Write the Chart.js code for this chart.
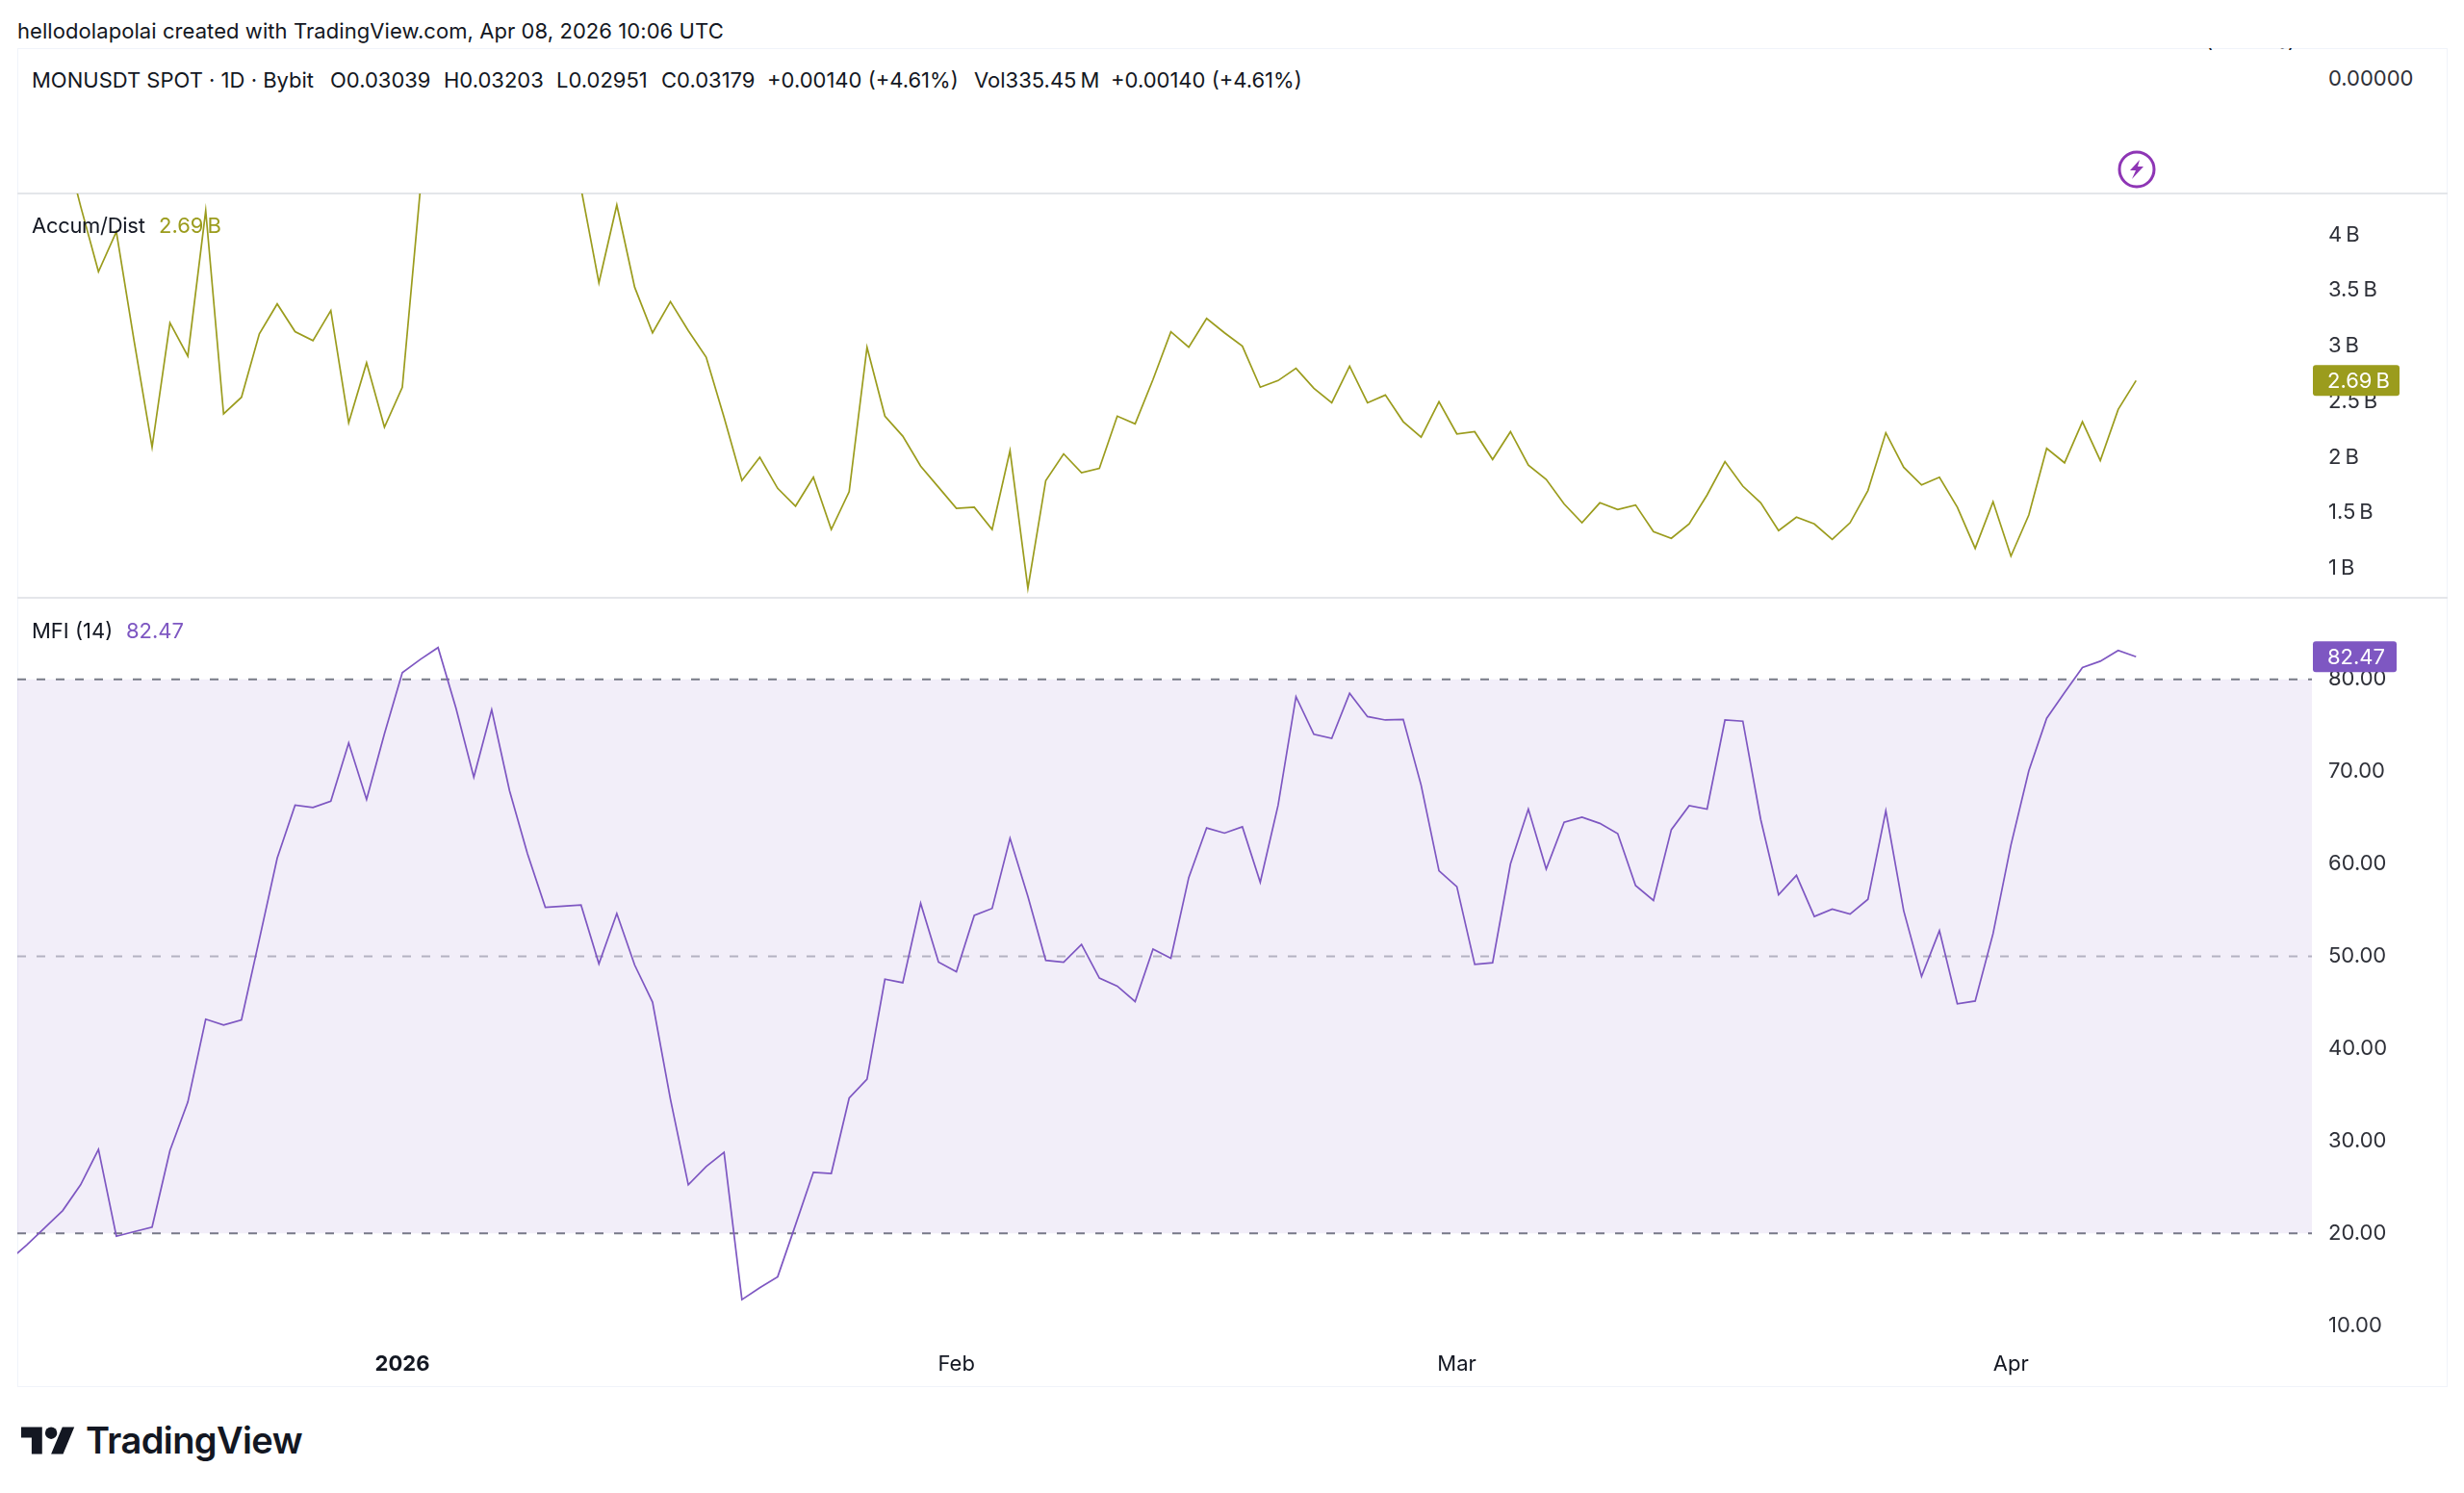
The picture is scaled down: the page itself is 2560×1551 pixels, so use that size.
<!DOCTYPE html>
<html>
<head>
<meta charset="utf-8">
<title>MONUSDT</title>
<script src="https://cdn.jsdelivr.net/npm/chart.js@4"></script>
<style>
  html, body { margin: 0; padding: 0; background: #fff; }
  body { width: 2560px; height: 1551px; position: relative; overflow: hidden; font-family: "Inter", sans-serif; color: #131722; }
  .abs { position: absolute; white-space: pre; }
  .txt { font-size: 22px; line-height: 28px; }
  canvas { position: absolute; display: block; }
  #frame { position: absolute; left: 18px; top: 50px; width: 2523px; height: 1389px; border: 1px solid #f0f3fa; }
  .sep { position: absolute; left: 18px; width: 2525px; height: 2px; background: #e4e6ea; }
</style>
</head>
<body>
<div class="abs txt" style="left:18px;top:18px;letter-spacing:0.07px">hellodolapolai created with TradingView.com, Apr 08, 2026 10:06 UTC</div>

<div id="frame"></div>
<div class="sep" style="top:200px"></div>
<div class="sep" style="top:620px"></div>

<canvas id="adChart" width="2524" height="420" style="left:18px;top:201px"></canvas>
<canvas id="mfiChart" width="2524" height="819" style="left:18px;top:621px"></canvas>

<!-- tail of the price legend that gets cut by the pane edge -->
<div class="abs" style="left:2100px;top:50px;width:290px;height:5px;overflow:hidden">
  <div class="abs txt" style="right:5px;top:-22px">+0.00140 (+4.61%)</div>
</div>

<div class="abs txt" style="left:33px;top:69px">MONUSDT SPOT · 1D · Bybit</div>
<div class="abs txt" style="left:343px;top:69px">O0.03039</div>
<div class="abs txt" style="left:461px;top:69px">H0.03203</div>
<div class="abs txt" style="left:578px;top:69px">L0.02951</div>
<div class="abs txt" style="left:687px;top:69px">C0.03179</div>
<div class="abs txt" style="left:797px;top:69px">+0.00140 (+4.61%)</div>
<div class="abs txt" style="left:1012px;top:69px">Vol335.45&#8201;M</div>
<div class="abs txt" style="left:1154px;top:69px">+0.00140 (+4.61%)</div>
<div class="abs txt" style="left:2419px;top:67px;color:#2e3038">0.00000</div>
<svg class="abs" style="left:2200px;top:156px" width="40" height="40" viewBox="0 0 40 40">
  <circle cx="20" cy="20" r="18" fill="#fff" stroke="#8e35b5" stroke-width="3"/>
  <path d="M23 10 L13 21 H19 L15 30 L27 17 H21 Z" fill="#8e35b5"/>
</svg>

<div class="abs txt" style="left:33px;top:220px;letter-spacing:-0.3px">Accum/Dist</div>
<div class="abs txt" style="left:165px;top:220px;color:#9b9c1d">2.69&#8201;B</div>
<div class="abs txt" style="left:33px;top:641px">MFI (14)</div>
<div class="abs txt" style="left:131px;top:641px;color:#7e57c2">82.47</div>

<svg class="abs" style="left:22px;top:1480px" width="56" height="33" viewBox="0 4 36 18">
  <path d="M14 22H7V11H0V4h14v18zM28 22h-8l7.5-18h8L28 22z" fill="#131722"/>
  <circle cx="20" cy="8" r="4" fill="#131722"/>
</svg>
<div class="abs" style="left:89px;top:1472px;font-size:38px;line-height:48px;font-weight:600;letter-spacing:-0.6px">TradingView</div>

<script>
// days counted from Jan 1 2026, first entry is Dec 10 2025
const firstDay = -22;

// Accum/Dist in billions, null where the line runs off the top of the pane
const adValues = [
  null, null, null, 4.89, 4.26, 3.67, 4.03, 3.04, 2.09, 3.21, 2.91, 4.22, 2.39, 2.54, 3.11, 3.38,
  3.13, 3.05, 3.32, 2.31, 2.85, 2.27, 2.63, 4.4, null, null, null, null, null, null, null, null,
  4.42, 3.57, 4.27, 3.53, 3.12, 3.40, 3.14, 2.90, 2.36, 1.79, 2.00, 1.72, 1.56, 1.82, 1.35, 1.69,
  2.99, 2.37, 2.19, 1.92, 1.73, 1.54, 1.55, 1.35, 2.06, 0.82, 1.79, 2.03, 1.86, 1.90, 2.37, 2.30,
  2.70, 3.13, 2.99, 3.25, 3.12, 3.00, 2.63, 2.69, 2.80, 2.62, 2.49, 2.82, 2.49, 2.56, 2.32, 2.18,
  2.50, 2.21, 2.23, 1.98, 2.23, 1.93, 1.80, 1.58, 1.41, 1.59, 1.53, 1.57, 1.33, 1.27, 1.40, 1.66,
  1.96, 1.74, 1.59, 1.34, 1.46, 1.40, 1.26, 1.41, 1.70, 2.22, 1.91, 1.75, 1.82, 1.55, 1.18, 1.60,
  1.11, 1.48, 2.08, 1.95, 2.32, 1.97, 2.43, 2.69
];

const mfiValues = [
  17.09, 18.76, 20.62, 22.47, 25.26, 29.09, 19.69, 20.19, 20.68, 28.97, 34.23, 43.20, 42.58, 43.13, 51.85, 60.64,
  66.39, 66.14, 66.82, 73.13, 67.01, 74.12, 80.74, 82.16, 83.46, 76.91, 69.42, 76.72, 67.94, 61.13, 55.32, 55.44,
  55.57, 49.20, 54.64, 49.07, 45.05, 34.54, 25.26, 27.24, 28.78, 12.82, 14.12, 15.30, 20.93, 26.62, 26.49, 34.66,
  36.70, 47.53, 47.15, 55.75, 49.38, 48.33, 54.45, 55.20, 62.80, 56.49, 49.57, 49.38, 51.30, 47.65, 46.78, 45.11,
  50.80, 49.81, 58.54, 63.92, 63.36, 64.04, 58.04, 66.39, 78.14, 74.06, 73.63, 78.51, 75.98, 75.61, 75.67, 68.56,
  59.28, 57.55, 49.13, 49.32, 60.02, 65.96, 59.46, 64.54, 65.09, 64.41, 63.30, 57.67, 56.06, 63.73, 66.33, 65.96,
  75.61, 75.48, 64.84, 56.68, 58.78, 54.33, 55.13, 54.58, 56.19, 65.77, 54.95, 47.83, 52.78, 44.87, 45.17, 52.47,
  62.06, 70.10, 75.79, 78.58, 81.30, 81.98, 83.15, 82.47
];

const adTicks = [1, 1.5, 2, 2.5, 3, 3.5, 4];
const adTickLabels = ["1\u2009B", "1.5\u2009B", "2\u2009B", "2.5\u2009B", "3\u2009B", "3.5\u2009B", "4\u2009B"];
const mfiTicks = [10, 20, 30, 40, 50, 60, 70, 80];
const mfiTickLabels = ["10.00", "20.00", "30.00", "40.00", "50.00", "60.00", "70.00", "80.00"];
const monthDays = [0, 31, 59, 90];
const monthLabels = ["2026", "Feb", "Mar", "Apr"];
const upperBand = 80;
const middleBand = 50;
const lowerBand = 20;

const adColor = "#9b9c1d";
const mfiColor = "#7e57c2";
const tickColor = "#2e3038";
const tickFont = { family: "Inter", size: 22 };

// visible day range of the panes
const xMin = -21.54;
const xMax = 106.84;

const toPoints = (arr) => arr.map((v, i) => ({ x: firstDay + i, y: v }));
const bandLine = (v) => [{ x: xMin, y: v }, { x: xMax, y: v }];

// price tag at the end of the line, on top of the axis labels
const lastValueTag = (value, text, color, width) => ({
  id: "lastValueTag",
  afterDraw(chart) {
    const c = chart.ctx;
    const yPos = chart.scales.y.getPixelForValue(value);
    const left = chart.chartArea.right + 1;
    c.save();
    c.fillStyle = color;
    c.beginPath();
    c.roundRect(left, yPos - 16, width, 32, 3);
    c.fill();
    c.fillStyle = "#fff";
    c.font = "22px Inter";
    c.textBaseline = "middle";
    c.fillText(text, left + 15, yPos + 1);
    c.restore();
  },
});

const xAxis = (showLabels) => ({
  type: "linear",
  min: xMin,
  max: xMax,
  display: showLabels,
  grid: { display: false, drawTicks: false },
  border: { display: false },
  afterBuildTicks: (scale) => { scale.ticks = monthDays.map((d) => ({ value: d })); },
  afterFit: (scale) => { scale.height = showLabels ? 42 : 0; scale.paddingLeft = 0; scale.paddingRight = 0; },
  ticks: {
    autoSkip: false,
    maxRotation: 0,
    padding: 6,
    color: "#131722",
    callback: (value, i) => monthLabels[i],
    font: (ctx) => ctx.index === 0 ? { family: "Inter", size: 22, weight: "bold" } : tickFont,
  },
});

const yAxis = (min, max, ticks, labels) => ({
  type: "linear",
  position: "right",
  min: min,
  max: max,
  grid: { display: false, drawTicks: false },
  border: { display: false },
  afterBuildTicks: (scale) => { scale.ticks = ticks.map((v) => ({ value: v })); },
  afterFit: (scale) => { scale.width = 140; scale.paddingTop = 0; scale.paddingBottom = 0; },
  ticks: {
    autoSkip: false,
    crossAlign: "near",
    padding: 17,
    color: tickColor,
    font: tickFont,
    callback: (value, i) => labels[i],
  },
});

const baseOptions = {
  responsive: false,
  animation: false,
  events: [],
  layout: { padding: 0 },
  plugins: { legend: { display: false }, tooltip: { enabled: false } },
};

new Chart(document.getElementById("adChart"), {
  type: "line",
  data: {
    datasets: [{
      data: toPoints(adValues),
      borderColor: adColor,
      borderWidth: 1.7,
      pointRadius: 0,
      tension: 0,
    }],
  },
  options: {
    ...baseOptions,
    scales: { x: xAxis(false), y: yAxis(0.735, 4.374, adTicks, adTickLabels) },
  },
  plugins: [lastValueTag(adValues[adValues.length - 1], "2.69\u2009B", adColor, 90)],
});

new Chart(document.getElementById("mfiChart"), {
  type: "line",
  data: {
    datasets: [
      {
        data: toPoints(mfiValues),
        borderColor: mfiColor,
        borderWidth: 1.7,
        pointRadius: 0,
        tension: 0,
      },
      {
        data: bandLine(upperBand),
        borderColor: "#787b86",
        borderWidth: 2,
        borderDash: [9, 11],
        pointRadius: 0,
        fill: { value: lowerBand },
        backgroundColor: "rgba(126, 87, 194, 0.1)",
      },
      {
        data: bandLine(middleBand),
        borderColor: "rgba(120, 123, 134, 0.5)",
        borderWidth: 2,
        borderDash: [9, 11],
        pointRadius: 0,
      },
      {
        data: bandLine(lowerBand),
        borderColor: "#787b86",
        borderWidth: 2,
        borderDash: [9, 11],
        pointRadius: 0,
      },
    ],
  },
  options: {
    ...baseOptions,
    scales: { x: xAxis(true), y: yAxis(7.83, 88.85, mfiTicks, mfiTickLabels) },
  },
  plugins: [lastValueTag(mfiValues[mfiValues.length - 1], "82.47", mfiColor, 87)],
});
</script>
</body>
</html>
